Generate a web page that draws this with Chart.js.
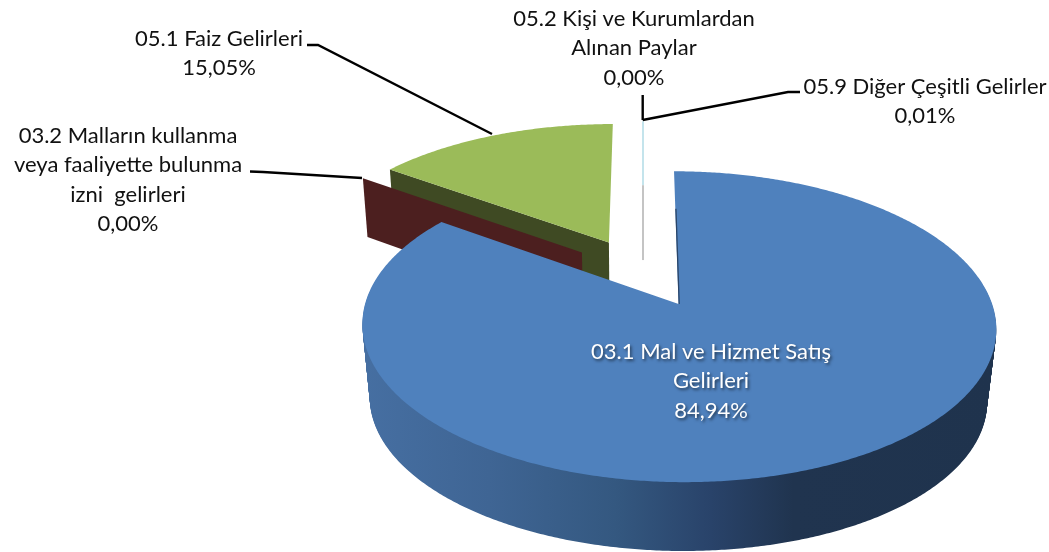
<!DOCTYPE html>
<html><head><meta charset="utf-8">
<script src="https://cdn.jsdelivr.net/npm/chart.js@4"></script>
<style>html,body{margin:0;padding:0;background:#fff}canvas{display:block}</style>
</head><body><canvas id="c" width="1049" height="552"></canvas>
<script>
const categories = ['03.1 Mal ve Hizmet Satış Gelirleri','03.2 Malların kullanma veya faaliyette bulunma izni  gelirleri','05.1 Faiz Gelirleri','05.2 Kişi ve Kurumlardan Alınan Paylar','05.9 Diğer Çeşitli Gelirler'];
const shares = [84.94, 0.00, 15.05, 0.00, 0.01];
const percentLabels = ['84,94%','0,00%','15,05%','0,00%','0,01%'];
const sliceColors = ['#4F81BD','#C0504D','#9BBB59','#8064A2','#4BACC6'];

const FONT = '22px Lato, Carlito, sans-serif';
const TOP = {cx:642.7, cy:272.3, a:304, b:143, p:0.1416};
const BOT = {cx:642.7, cy:334.3, a:299, b:147.8, p:0.1416};
const RIM_BOT = {cx:642.7, cy:347, a:296, b:139, p:0.1416};
const EXPLODE = 0.2416, KX = 1.04;
function proj(P,U,V){const w=1-P.p*V;return [P.cx+P.a*U/w, P.cy+P.b*V/w];}

const textBlocks = [
 {x:634,y:[19,48,78],lines:['05.2 Kişi ve Kurumlardan','Alınan Paylar',percentLabels[3]],color:'#111'},
 {x:925,y:[87,116],lines:['05.9 Diğer Çeşitli Gelirler',percentLabels[4]],color:'#111'},
 {x:219,y:[39,68],lines:['05.1 Faiz Gelirleri',percentLabels[2]],color:'#111'},
 {x:128,y:[136,165,195,224],lines:['03.2 Malların kullanma','veya faaliyette bulunma','izni  gelirleri',percentLabels[1]],color:'#111'},
 {x:711,y:[352,381,411],lines:['03.1 Mal ve Hizmet Satış','Gelirleri',percentLabels[0]],color:'#fff',shadow:true}
];
const leaders = [
 [[307,45],[318,45],[492,134]],
 [[250,171.5],[263,172],[362,178]],
 [[642.7,95],[642.7,120]],
 [[642.7,120],[788,92],[800,92]]
];

const pie3d = {
 id:'pie3d',
 beforeDatasetsDraw(chart){
  const ctx=chart.ctx, arcs=chart.getDatasetMeta(0).data;
  const geo=arcs.map(el=>{
    const s=el.startAngle,e=el.endAngle,m=(s+e)/2;
    return {s,e,ox:EXPLODE*KX*Math.cos(m),oy:EXPLODE*Math.sin(m)};
  });
  const pt=(P,g,ang,r)=>proj(P,g.ox+r*Math.cos(ang),g.oy+r*Math.sin(ang));
  const trace=(pts)=>{ctx.beginPath();pts.forEach((q,i)=>i?ctx.lineTo(q[0],q[1]):ctx.moveTo(q[0],q[1]));ctx.closePath();};
  const arcPts=(P,g,s=g.s,e=g.e)=>{const out=[];const n=Math.max(1,Math.ceil((e-s)/(Math.PI/360)));
    for(let i=0;i<=n;i++)out.push(pt(P,g,s+(e-s)*i/n,1));return out;};
  const radialWall=(g,ang,color)=>{trace([pt(TOP,g,ang,1),pt(TOP,g,ang,0),pt(BOT,g,ang,0),pt(BOT,g,ang,1)]);ctx.fillStyle=color;ctx.fill();};
  const face=(g,color)=>{trace([pt(TOP,g,g.s,0),...arcPts(TOP,g)]);ctx.fillStyle=color;ctx.fill();};
  ctx.save();
  // thin slices (05.2, 05.9)
  [3,4].forEach(i=>{const g=geo[i];const x=Math.round(pt(TOP,g,g.s,1)[0])+0.5;
    const a=pt(TOP,g,g.s,1),b=pt(TOP,g,g.s,0.425),c=pt(TOP,g,g.s,-0.155);
    ctx.lineWidth=1;ctx.strokeStyle='#C4E4EC';ctx.beginPath();ctx.moveTo(x,a[1]);ctx.lineTo(x,b[1]);ctx.stroke();
    ctx.strokeStyle='#C4C4C4';ctx.beginPath();ctx.moveTo(x,b[1]);ctx.lineTo(x,c[1]);ctx.stroke();
  });
  // green slice
  radialWall(geo[2],geo[2].s,'#3F4A23');
  face(geo[2],arcs[2].options.backgroundColor);
  // brown zero-width slice: only its radial wall shows
  radialWall(geo[1],geo[1].s,'#4C1F1F');
  // blue slice: outer wall swept from the face plane down to the base plane, then the face
  const g=geo[0];
  const grad=ctx.createLinearGradient(362,0,996,0);
  grad.addColorStop(0,'#466FA2');grad.addColorStop(0.2,'#3F6594');grad.addColorStop(0.4,'#345880');
  grad.addColorStop(0.55,'#29436A');grad.addColorStop(0.68,'#20344F');grad.addColorStop(1,'#1F334D');
  ctx.fillStyle=grad;
  const wallStart=g.s+Math.PI/3, wallEnd=g.e-Math.PI/9, STEPS=70;
  for(let k=1;k<=STEPS;k++){
    const t=k/STEPS;
    const P={cx:TOP.cx,p:TOP.p,cy:TOP.cy+(RIM_BOT.cy-TOP.cy)*t,a:TOP.a+(RIM_BOT.a-TOP.a)*t,b:TOP.b+(RIM_BOT.b-TOP.b)*t};
    trace([...arcPts(P,g,wallStart,wallEnd),pt(P,g,Math.PI/2,0.35)]);ctx.fill();
  }
  face(g,arcs[0].options.backgroundColor);
  // dark edge of the opening
  const e1=pt(TOP,g,g.s,0.69),e2=pt(TOP,g,g.s,0);
  ctx.strokeStyle='#2A4568';ctx.lineWidth=1.3;ctx.beginPath();ctx.moveTo(e1[0]+0.6,e1[1]);ctx.lineTo(e2[0]+0.6,e2[1]);ctx.stroke();
  ctx.restore();
  return false;
 },
 afterDraw(chart){
  const ctx=chart.ctx;
  ctx.save();
  ctx.strokeStyle='#000';ctx.lineWidth=2.4;ctx.lineJoin='miter';
  leaders.forEach(l=>{ctx.beginPath();l.forEach((q,i)=>i?ctx.lineTo(q[0],q[1]):ctx.moveTo(q[0],q[1]));ctx.stroke();});
  ctx.font=FONT;ctx.textAlign='center';ctx.textBaseline='middle';
  textBlocks.forEach(b=>{
    b.lines.forEach((t,i)=>{
      ctx.save();
      if(b.shadow){ctx.shadowColor='rgba(0,0,0,0.55)';ctx.shadowBlur=3;ctx.shadowOffsetX=1.5;ctx.shadowOffsetY=1.5;}
      ctx.fillStyle=b.color;ctx.fillText(t,b.x,b.y[i]);
      ctx.restore();
    });
  });
  ctx.restore();
 }
};

new Chart(document.getElementById('c'),{
 type:'pie',
 data:{labels:categories,datasets:[{data:shares,backgroundColor:sliceColors,borderWidth:0}]},
 options:{responsive:false,animation:false,
  plugins:{legend:{display:false},tooltip:{enabled:false}}},
 plugins:[pie3d]
});
</script></body></html>
